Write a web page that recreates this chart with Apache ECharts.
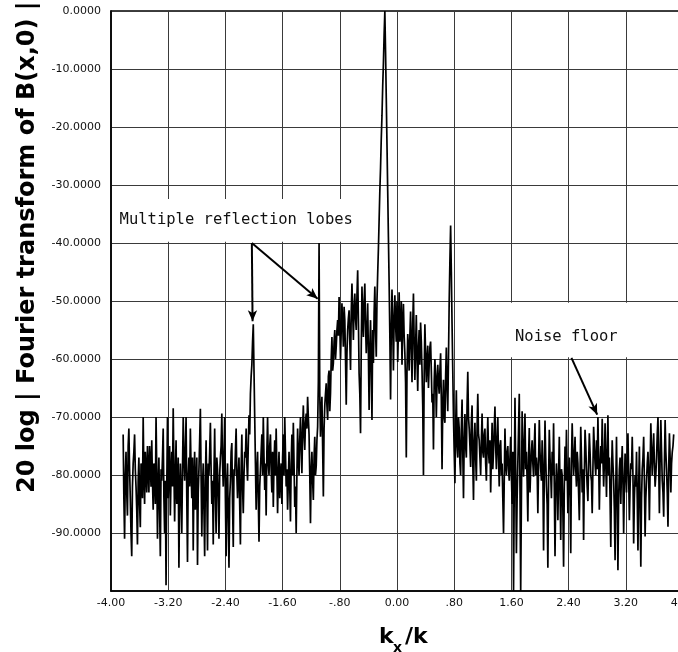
<!DOCTYPE html>
<html>
<head>
<meta charset="utf-8">
<script src="https://cdn.jsdelivr.net/npm/echarts@6/dist/echarts.min.js"></script>
<style>
  html, body { margin: 0; padding: 0; background: #fff; }
  #chart { width: 678px; height: 652px; }
</style>
</head>
<body>
<div id="chart"></div>
<script>
// Spectrum samples: kx/k runs from kxStart; `level` sits on the kxStep grid,
// `levelMid` holds the samples half a step after each of them
const kxStart = -3.83;
const kxStep = 0.02;

// 20 log |FT of B(x,0)| in dB
const level = [
  -73, -91, -76, -87, -72, -84, -94, -78, -73, -82,
  -92, -77, -89, -80, -70, -85, -79, -75, -83, -78,
  -74, -86, -80, -70, -91, -77, -94, -81, -72, -90,
  -99, -70, -79, -87, -76, -68.5, -88, -74, -82, -96,
  -78, -90, -70, -81, -70, -95, -77, -72, -84, -93,
  -76, -82, -95.5, -79, -68.6, -90.6, -78, -94, -74, -93,
  -80, -71, -85, -92, -72, -90, -79, -91, -77, -69.4,
  -82, -70, -94, -78, -96, -81, -74.5, -92.4, -80, -72,
  -84, -77, -92, -73, -86.6, -76, -72, -81, -69.7, -66,
  -61, -54, -70, -86, -76, -91.5, -79, -73, -70, -82.6,
  -87, -70, -80, -73, -83, -85.5, -74, -72, -86.6, -76,
  -80, -85, -73, -70, -82, -86, -76, -88, -73, -71,
  -85.5, -90, -72, -80, -70, -79.7, -68, -75.7, -69.4, -66.5,
  -73, -88.3, -76, -84.3, -73.4, -78.5, -71.7, -40, -73.4, -66.5,
  -83.7, -68, -64.2, -70.5, -62, -65.9, -56.2, -60.7, -55, -57.9,
  -53.3, -49.3, -60.1, -50.4, -57.9, -53.3, -67.9, -55, -51.6, -61.9,
  -47, -56.7, -48.7, -55, -44.7, -62.5, -72.8, -47.5, -56.2, -47,
  -59, -50.4, -68.8, -53.3, -70.5, -60.7, -47.5, -59.6, -45.2, -36,
  -27, -18, -9, 0, -15, -31, -47, -67, -48, -62,
  -49, -57, -60.5, -48.5, -55, -61, -50.5, -59, -77, -55.7,
  -62, -51.8, -64, -48.7, -63.6, -52.4, -65.5, -55, -53.7, -62,
  -80, -54, -64, -57.7, -61, -57, -67.5, -75.6, -60, -70,
  -61, -66, -59, -79, -63.6, -71, -58, -69, -50, -37,
  -54, -70, -81.4, -65.4, -77, -72, -80, -67, -84, -69.5,
  -77, -62.2, -72, -78.6, -68, -84.3, -71, -81, -66, -74,
  -80, -69.4, -77, -72, -81, -70, -78, -83, -71, -76,
  -68.2, -79, -70, -82, -74, -78, -90, -72, -80, -75,
  -81, -73.4, -85, -100, -66.7, -93.5, -78, -66, -100, -69,
  -80.3, -69.4, -76, -88, -71.9, -79, -74, -80.3, -71.1, -77,
  -86.6, -70.5, -79, -74, -93, -70.6, -82, -96, -72.2, -80,
  -76, -71.1, -94, -78, -87.8, -73.4, -91.2, -80, -95.8, -75.1,
  -72.2, -86.6, -77, -93.5, -71.1, -80, -73.4, -82, -78, -87.8,
  -71.7, -83, -91.2, -72.2, -79, -84.5, -72.8, -80, -86.6, -71.7,
  -78, -74, -70, -86, -75, -70.3, -82, -71.1, -83.8, -69.7,
  -77, -92.4, -74, -81, -94.7, -73.4, -96.4, -79, -85, -75,
  -90.1, -76.3, -83, -72.8, -87.8, -78, -73.4, -91.8, -80, -76,
  -93, -75.1, -95.8, -79, -73.4, -90.6, -81, -76, -87.8, -71.1,
  -80, -72.8, -82, -77, -70, -86.6, -70.5, -81, -87.2, -70.5,
  -79, -88.9, -72.8, -83, -76, -73
];

const levelMid = [
  -84, -80, -83, -75, -79, -90, -82, -76, -79, -86,
  -81, -85, -78, -84, -80, -76, -83, -79, -75, -82,
  -81, -78, -85, -79, -82, -86, -79, -77, -84, -81,
  -82, -84, -75, -80, -82, -79, -80, -85, -77, -83,
  -84, -79, -77, -76, -84, -80, -82, -79, -77, -81,
  -86, -77, -83, -74, -80, -82, -86, -81, -83, -78,
  -76, -79, -81, -80, -83, -77, -84, -80, -75, -78,
  -77, -84, -81, -88, -84, -76, -85, -79, -76, -80,
  -80, -85, -79, -82, -80, -77, -78, -75, -73, -63,
  -57, -62, -78, -79, -84, -82, -76, -80, -77, -78,
  -76, -78, -75, -79, -76, -78, -80, -79, -80, -84,
  -78, -77, -80, -76, -79, -81, -82, -78, -80, -78,
  -82, -80, -77, -74, -75, -72, -73, -71, -72, -70,
  -80, -79, -81, -77, -80, -74, -64, -66, -69, -75,
  -72, -66, -68, -63, -69, -60, -62, -57, -60, -55,
  -56, -54, -55, -54, -51, -60, -59, -53, -57, -52,
  -52, -51, -53, -49, -53, -66, -58, -53, -50, -54,
  -55, -59, -58, -62, -55, -52, -55, -50, -41, -31,
  -22, -13, -4, -7, -23, -39, -56, -55, -54, -53,
  -54, -50, -55, -57, -50, -54, -56, -64, -62, -58,
  -56, -58, -54, -57, -58, -60, -58, -61, -57, -68,
  -63, -59, -60, -65, -58, -62, -66, -64, -63, -64,
  -64, -62, -67, -68, -70, -63, -65, -60, -43, -45,
  -62, -76, -72, -75, -70, -78, -72, -76, -74, -75,
  -68, -70, -75, -71, -78, -74, -77, -72, -73, -77,
  -74, -76, -73, -78, -75, -76, -74, -77, -79, -72,
  -75, -74, -77, -75, -80, -84, -81, -78, -76, -79,
  -77, -80, -76, -82, -79, -84, -72, -82, -84, -75,
  -75, -79, -81, -77, -83, -76, -78, -75, -80, -79,
  -78, -76, -81, -79, -80, -77, -85, -81, -77, -84,
  -80, -82, -83, -81, -80, -82, -79, -86, -82, -81,
  -79, -80, -84, -78, -76, -77, -79, -76, -83, -80,
  -77, -79, -80, -75, -82, -78, -76, -81, -79, -75,
  -80, -79, -77, -79, -78, -77, -78, -78, -76, -80,
  -84, -80, -78, -86, -82, -84, -84, -77, -79, -81,
  -82, -79, -77, -80, -82, -79, -80, -84, -82, -84,
  -82, -85, -84, -77, -81, -84, -78, -80, -79, -76,
  -76, -78, -80, -73, -78, -77, -76, -83, -78, -76,
  -83, -79, -77, -78, -75
];

// Axis tick labels
const kxTickLabels = ['-4.00', '-3.20', '-2.40', '-1.60', '-.80', '0.00', '.80', '1.60', '2.40', '3.20', '4.00'];
const dbTickLabels = ['0.0000', '-10.0000', '-20.0000', '-30.0000', '-40.0000', '-50.0000',
                      '-60.0000', '-70.0000', '-80.0000', '-90.0000', ''];

const kxAt = j => +(kxStart + j * kxStep / 2).toFixed(3);
const points = [];
level.forEach((v, i) => {
  points.push([kxAt(2 * i), v]);
  if (i < levelMid.length) points.push([kxAt(2 * i + 1), levelMid[i]]);
});

const chart = echarts.init(document.getElementById('chart'), null, { renderer: 'canvas' });

const labelFont = { color: '#111', fontSize: 11, fontFamily: 'DejaVu Sans' };

chart.setOption({
  animation: false,
  backgroundColor: '#fff',
  grid: {
    left: 111, top: 11, width: 572, height: 580,
    outerBoundsMode: 'none', containLabel: false,
    show: true, borderColor: '#000', borderWidth: 1.5, backgroundColor: 'transparent'
  },
  xAxis: {
    type: 'value', min: -4, max: 4, interval: 0.8,
    axisLine: { show: true, onZero: false, lineStyle: { color: '#000', width: 1.5 } },
    axisTick: { show: false },
    splitLine: { show: true, lineStyle: { color: '#3a3a3a', width: 1 } },
    axisLabel: Object.assign({
      margin: 7,
      showMinLabel: true, showMaxLabel: true,
      formatter: v => kxTickLabels[Math.round((v + 4) / 0.8)]
    }, labelFont)
  },
  yAxis: {
    type: 'value', min: -100, max: 0, interval: 10,
    axisLine: { show: true, onZero: false, lineStyle: { color: '#000', width: 1.5 } },
    axisTick: { show: false },
    splitLine: { show: true, lineStyle: { color: '#3a3a3a', width: 1 } },
    axisLabel: Object.assign({
      margin: 10,
      formatter: v => dbTickLabels[Math.round(-v / 10)]
    }, labelFont)
  },
  series: [{
    type: 'line',
    data: points,
    showSymbol: false,
    symbol: 'none',
    z: 5,
    lineStyle: { color: '#000', width: 1.7 },
    markLine: {
      silent: true,
      symbol: ['none', 'arrow'],
      symbolSize: [7, 11],
      label: { show: false },
      lineStyle: { color: '#000', width: 2, type: 'solid' },
      data: [
        [{ coord: [-2.03, -40] }, { coord: [-2.02, -53.5] }],
        [{ coord: [-2.03, -40] }, { coord: [-1.11, -49.6] }],
        [{ coord: [2.44, -59.8] }, { coord: [2.80, -69.6] }]
      ]
    }
  }]
});

// Annotation boxes and titles, placed in data space where that makes sense
const px = (x, y) => chart.convertToPixel({ gridIndex: 0 }, [x, y]);
const lobeTL = px(-4, -32.4), lobeBR = px(-0.27, -39.8);
const floorTL = px(1.51, -50.3), floorBR = px(3.33, -59.7);
const lobeText = px(-3.88, -36.0);
const floorText = px(1.65, -56.2);

const annoFont = { fontSize: 15.5, fontFamily: 'DejaVu Sans Mono', fill: '#111' };

chart.setOption({
  graphic: [
    { type: 'rect', z: 3, silent: true,
      shape: { x: lobeTL[0] + 1, y: lobeTL[1], width: lobeBR[0] - lobeTL[0], height: lobeBR[1] - lobeTL[1] },
      style: { fill: '#fff' } },
    { type: 'rect', z: 3, silent: true,
      shape: { x: floorTL[0], y: floorTL[1], width: floorBR[0] - floorTL[0], height: floorBR[1] - floorTL[1] },
      style: { fill: '#fff' } },
    { type: 'text', z: 4, x: lobeText[0], y: lobeText[1],
      style: Object.assign({ text: 'Multiple reflection lobes', align: 'left', verticalAlign: 'middle' }, annoFont) },
    { type: 'text', z: 4, x: floorText[0], y: floorText[1],
      style: Object.assign({ text: 'Noise floor', align: 'left', verticalAlign: 'middle' }, annoFont) },
    // vertical axis title
    { type: 'text', z: 4, x: 28, y: 493, rotation: Math.PI / 2,
      style: { text: '20 log | Fourier transform of B(x,0) |', align: 'left', verticalAlign: 'middle',
               fontSize: 24, fontWeight: 'bold', fontFamily: 'DejaVu Sans', fill: '#000' } },
    // horizontal axis title k_x / k
    { type: 'text', z: 4, x: 379, y: 648,
      style: { text: 'k', align: 'left', verticalAlign: 'bottom',
               fontSize: 22, fontWeight: 'bold', fontFamily: 'DejaVu Sans', fill: '#000' } },
    { type: 'text', z: 4, x: 393, y: 655,
      style: { text: 'x', align: 'left', verticalAlign: 'bottom',
               fontSize: 14, fontWeight: 'bold', fontFamily: 'DejaVu Sans', fill: '#000' } },
    { type: 'text', z: 4, x: 405, y: 648,
      style: { text: '/k', align: 'left', verticalAlign: 'bottom',
               fontSize: 22, fontWeight: 'bold', fontFamily: 'DejaVu Sans', fill: '#000' } }
  ]
});
</script>
</body>
</html>
